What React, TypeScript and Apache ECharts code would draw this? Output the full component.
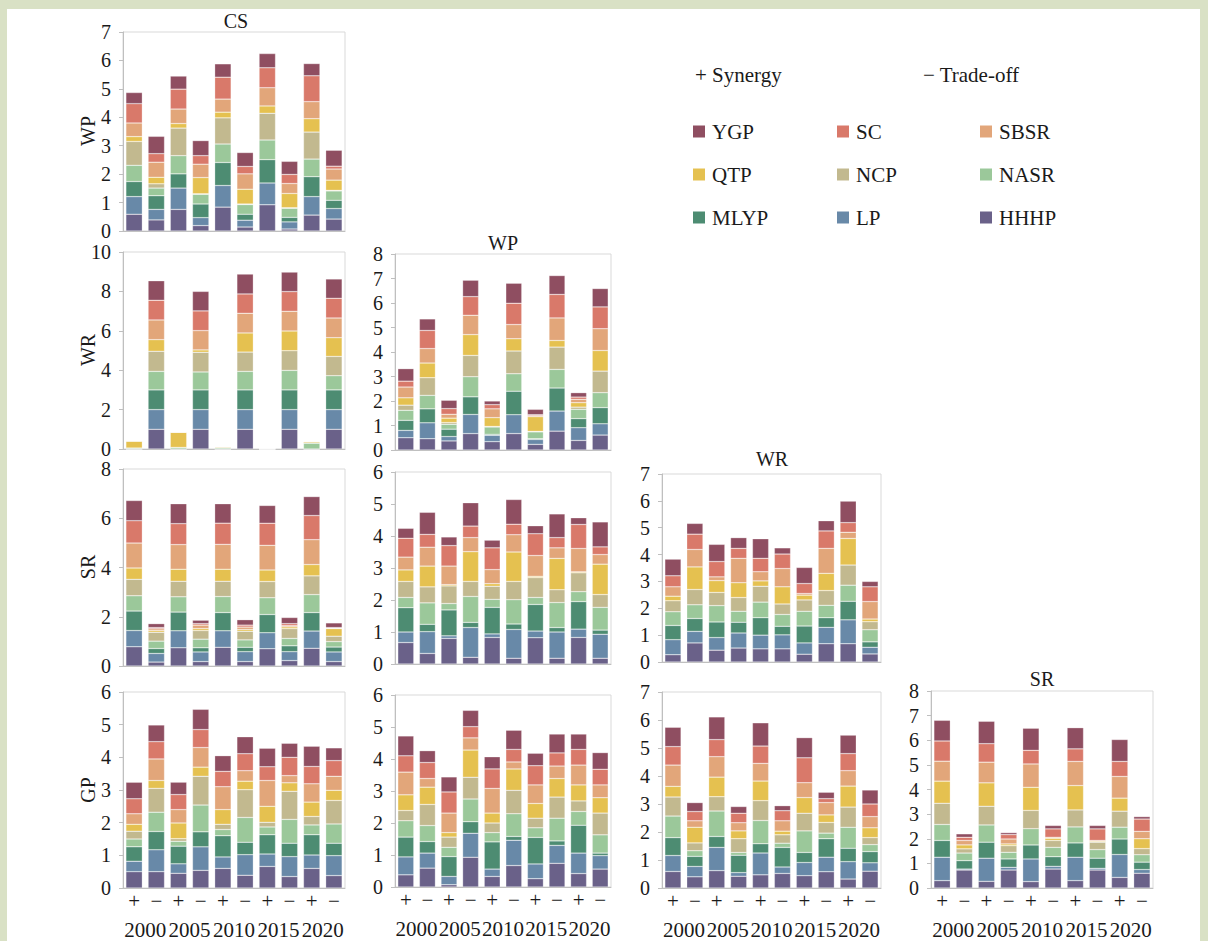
import React, { useEffect, useRef } from "react";
import * as echarts from "echarts";

const barLabels = ["+", "−", "+", "−", "+", "−", "+", "−", "+", "−"];
const years = ["2000", "2005", "2010", "2015", "2020"];
const components = ["HHHP", "LP", "MLYP", "NASR", "NCP", "QTP", "SBSR", "SC", "YGP"];
const compColors = ["#6a6189", "#6889a8", "#4d8c72", "#9bc89a", "#c2b98f", "#e5c150", "#e2a67a", "#d9796a", "#8f4e61"];
const columnTitles = ["CS", "WP", "WR", "SR"];
const rowTitles = ["WP", "WR", "SR", "GP"];
const legendColumns = [
  ["YGP", "QTP", "MLYP"],
  ["SC", "NCP", "LP"],
  ["SBSR", "NASR", "HHHP"],
];

// each panel: 9 rows (HHHP, LP, MLYP, NASR, NCP, QTP, SBSR, SC, YGP) x 10 bars
const wpCS = [
  [0.59, 0.39, 0.76, 0.19, 0.84, 0.14, 0.92, 0.07, 0.56, 0.42],
  [0.62, 0.37, 0.75, 0.28, 0.76, 0.24, 0.77, 0.25, 0.65, 0.37],
  [0.53, 0.48, 0.5, 0.48, 0.81, 0.21, 0.82, 0.16, 0.7, 0.29],
  [0.57, 0.27, 0.64, 0.34, 0.65, 0.34, 0.69, 0.32, 0.62, 0.33],
  [0.84, 0.15, 0.97, 0.02, 0.92, 0.02, 0.94, 0.02, 0.95, 0.02],
  [0.17, 0.23, 0.16, 0.57, 0.2, 0.52, 0.26, 0.5, 0.47, 0.36],
  [0.48, 0.53, 0.51, 0.47, 0.46, 0.54, 0.64, 0.35, 0.6, 0.39],
  [0.68, 0.3, 0.7, 0.3, 0.77, 0.26, 0.7, 0.32, 0.91, 0.1],
  [0.39, 0.61, 0.46, 0.53, 0.47, 0.49, 0.5, 0.46, 0.43, 0.56],
];
const wrCS = [
  [0, 1, 0, 1, 0, 1, 0, 1, 0, 1],
  [0, 1, 0, 1, 0, 1, 0, 1, 0, 1],
  [0, 1, 0, 1, 0, 1, 0, 1, 0, 1],
  [0.05, 0.94, 0.08, 0.91, 0.06, 0.94, 0, 0.99, 0.3, 0.72],
  [0, 1.02, 0, 1.0, 0, 0.98, 0, 1.0, 0, 0.98],
  [0.35, 0.59, 0.77, 0.12, 0.05, 0.97, 0.02, 1.0, 0.07, 0.95],
  [0, 1.0, 0, 0.98, 0, 1.0, 0, 1.0, 0, 1.0],
  [0, 1.0, 0, 1.0, 0, 0.98, 0, 1.0, 0, 1.0],
  [0, 0.99, 0, 0.99, 0, 1.01, 0, 0.99, 0, 0.98],
];
const wrWP = [
  [0.5, 0.46, 0.37, 0.67, 0.34, 0.67, 0.23, 0.77, 0.39, 0.61],
  [0.3, 0.65, 0.18, 0.78, 0.26, 0.77, 0.2, 0.82, 0.52, 0.46],
  [0.41, 0.57, 0.3, 0.72, 0.04, 0.96, 0.03, 0.94, 0.37, 0.66],
  [0.41, 0.55, 0.2, 0.82, 0.3, 0.71, 0.28, 0.76, 0.38, 0.61],
  [0.21, 0.72, 0.07, 0.87, 0.02, 0.93, 0.02, 0.91, 0.09, 0.88],
  [0.3, 0.6, 0.18, 0.85, 0.36, 0.5, 0.6, 0.27, 0.18, 0.84],
  [0.44, 0.59, 0.16, 0.79, 0.36, 0.58, 0.04, 0.92, 0.14, 0.89],
  [0.24, 0.74, 0.23, 0.76, 0.17, 0.87, 0.04, 0.96, 0.09, 0.89],
  [0.51, 0.47, 0.34, 0.67, 0.15, 0.82, 0.22, 0.77, 0.18, 0.75],
];
const srCS = [
  [0.78, 0.16, 0.74, 0.18, 0.76, 0.18, 0.7, 0.22, 0.72, 0.18],
  [0.66, 0.35, 0.69, 0.39, 0.67, 0.4, 0.65, 0.36, 0.7, 0.39],
  [0.79, 0.2, 0.76, 0.17, 0.74, 0.18, 0.74, 0.24, 0.75, 0.2],
  [0.62, 0.3, 0.62, 0.35, 0.65, 0.3, 0.68, 0.3, 0.73, 0.22],
  [0.67, 0.36, 0.63, 0.35, 0.62, 0.35, 0.66, 0.4, 0.76, 0.22],
  [0.46, 0.07, 0.49, 0.08, 0.49, 0.07, 0.47, 0.07, 0.46, 0.31],
  [1.01, 0.07, 1.0, 0.14, 1.01, 0.1, 1.0, 0.05, 1.01, 0.02],
  [0.91, 0.05, 0.85, 0.06, 0.86, 0.08, 0.9, 0.08, 0.98, 0.02],
  [0.82, 0.16, 0.81, 0.14, 0.79, 0.22, 0.72, 0.25, 0.77, 0.19],
];
const srWP = [
  [0.67, 0.33, 0.8, 0.21, 0.83, 0.18, 0.82, 0.18, 0.83, 0.18],
  [0.33, 0.68, 0.08, 0.93, 0.11, 0.9, 0.21, 0.82, 0.26, 0.75],
  [0.76, 0.23, 0.81, 0.16, 0.83, 0.17, 0.83, 0.14, 0.86, 0.13],
  [0.32, 0.67, 0.2, 0.81, 0.25, 0.76, 0.22, 0.78, 0.31, 0.71],
  [0.5, 0.5, 0.55, 0.47, 0.41, 0.57, 0.62, 0.4, 0.59, 0.4],
  [0.36, 0.65, 0.04, 0.93, 0.08, 0.92, 0.04, 0.98, 0.03, 0.95],
  [0.4, 0.59, 0.58, 0.44, 0.44, 0.54, 0.65, 0.33, 0.73, 0.3],
  [0.59, 0.4, 0.64, 0.36, 0.68, 0.33, 0.68, 0.32, 0.75, 0.24],
  [0.31, 0.69, 0.27, 0.73, 0.24, 0.77, 0.25, 0.74, 0.21, 0.78],
];
const srWR = [
  [0.27, 0.71, 0.44, 0.52, 0.49, 0.49, 0.29, 0.68, 0.68, 0.3],
  [0.56, 0.43, 0.47, 0.56, 0.51, 0.52, 0.42, 0.61, 0.89, 0.25],
  [0.53, 0.48, 0.58, 0.4, 0.65, 0.32, 0.63, 0.36, 0.69, 0.2],
  [0.51, 0.51, 0.61, 0.41, 0.58, 0.44, 0.55, 0.46, 0.6, 0.45],
  [0.41, 0.57, 0.49, 0.51, 0.59, 0.39, 0.42, 0.55, 0.75, 0.3],
  [0.17, 0.84, 0.44, 0.55, 0.2, 0.64, 0.18, 0.64, 0.99, 0.1],
  [0.35, 0.65, 0.14, 0.91, 0.34, 0.68, 0.06, 0.93, 0.23, 0.65],
  [0.41, 0.57, 0.57, 0.37, 0.5, 0.54, 0.37, 0.65, 0.36, 0.55],
  [0.62, 0.4, 0.64, 0.4, 0.73, 0.23, 0.6, 0.38, 0.8, 0.2],
];
const gpCS = [
  [0.5, 0.5, 0.45, 0.54, 0.6, 0.39, 0.66, 0.35, 0.6, 0.38],
  [0.32, 0.67, 0.29, 0.72, 0.35, 0.63, 0.38, 0.61, 0.41, 0.61],
  [0.44, 0.56, 0.54, 0.46, 0.65, 0.38, 0.59, 0.41, 0.62, 0.38],
  [0.24, 0.59, 0.15, 0.82, 0.19, 0.76, 0.24, 0.73, 0.3, 0.59],
  [0.24, 0.73, 0.08, 0.88, 0.16, 0.85, 0.14, 0.86, 0.26, 0.72],
  [0.21, 0.24, 0.48, 0.28, 0.45, 0.26, 0.49, 0.26, 0.44, 0.31],
  [0.32, 0.66, 0.41, 0.6, 0.7, 0.32, 0.79, 0.22, 0.56, 0.43],
  [0.46, 0.53, 0.46, 0.55, 0.47, 0.52, 0.42, 0.56, 0.53, 0.48],
  [0.51, 0.51, 0.38, 0.62, 0.48, 0.52, 0.57, 0.43, 0.62, 0.39],
];
const gpWP = [
  [0.38, 0.59, 0.07, 0.93, 0.33, 0.67, 0.26, 0.74, 0.42, 0.56],
  [0.56, 0.47, 0.26, 0.75, 0.23, 0.79, 0.46, 0.56, 0.64, 0.42],
  [0.62, 0.36, 0.62, 0.36, 0.85, 0.12, 0.83, 0.14, 0.87, 0.08],
  [0.51, 0.5, 0.29, 0.71, 0.29, 0.71, 0.3, 0.71, 0.43, 0.57],
  [0.32, 0.66, 0.32, 0.68, 0.3, 0.73, 0.3, 0.66, 0.33, 0.68],
  [0.49, 0.54, 0.14, 0.85, 0.31, 0.67, 0.46, 0.58, 0.5, 0.48],
  [0.71, 0.27, 0.61, 0.38, 0.77, 0.22, 0.58, 0.39, 0.62, 0.4],
  [0.51, 0.5, 0.66, 0.35, 0.61, 0.39, 0.6, 0.41, 0.49, 0.49],
  [0.62, 0.37, 0.47, 0.51, 0.38, 0.6, 0.39, 0.59, 0.48, 0.52],
];
const gpWR = [
  [0.59, 0.4, 0.62, 0.42, 0.47, 0.52, 0.44, 0.58, 0.32, 0.6],
  [0.57, 0.37, 0.83, 0.13, 0.78, 0.23, 0.47, 0.52, 0.62, 0.3],
  [0.64, 0.36, 0.39, 0.62, 0.33, 0.7, 0.36, 0.66, 0.48, 0.4],
  [0.77, 0.2, 0.91, 0.1, 0.83, 0.15, 0.77, 0.2, 0.75, 0.25],
  [0.68, 0.28, 0.51, 0.49, 0.71, 0.3, 0.63, 0.38, 0.72, 0.25],
  [0.38, 0.56, 0.7, 0.28, 0.7, 0.13, 0.56, 0.27, 0.75, 0.35],
  [0.76, 0.23, 0.73, 0.29, 0.63, 0.37, 0.53, 0.44, 0.55, 0.4],
  [0.66, 0.33, 0.61, 0.34, 0.62, 0.36, 0.89, 0.14, 0.61, 0.45],
  [0.69, 0.32, 0.81, 0.24, 0.83, 0.18, 0.72, 0.23, 0.66, 0.5],
];
const gpSR = [
  [0.3, 0.73, 0.27, 0.73, 0.26, 0.77, 0.3, 0.73, 0.43, 0.6],
  [0.95, 0.04, 0.94, 0.11, 0.92, 0.11, 0.95, 0.07, 0.93, 0.15],
  [0.68, 0.34, 0.65, 0.34, 0.57, 0.39, 0.58, 0.41, 0.63, 0.3],
  [0.65, 0.31, 0.7, 0.27, 0.66, 0.38, 0.65, 0.35, 0.48, 0.3],
  [0.86, 0.17, 0.76, 0.27, 0.74, 0.28, 0.69, 0.3, 0.65, 0.25],
  [0.9, 0.16, 0.95, 0.07, 0.94, 0.09, 0.99, 0.04, 0.53, 0.4],
  [0.81, 0.18, 0.84, 0.2, 0.95, 0.04, 0.98, 0.03, 0.88, 0.3],
  [0.82, 0.13, 0.75, 0.18, 0.55, 0.34, 0.51, 0.47, 0.61, 0.5],
  [0.84, 0.14, 0.91, 0.08, 0.9, 0.14, 0.86, 0.14, 0.89, 0.1],
];

const OX = 7;
const OY = 9;
const FONT = '"Liberation Serif", "Times New Roman", serif';
const TXT = "#1a1a1a";

const colLeft = [123, 395, 662, 931];
const colWidth = [222, 216, 219, 222];

const panels = [
  { data: wpCS, row: 0, col: 0, top: 32, bottom: 231, max: 7, interval: 1 },
  { data: wrCS, row: 1, col: 0, top: 252, bottom: 449, max: 10, interval: 2 },
  { data: wrWP, row: 1, col: 1, top: 254, bottom: 450, max: 8, interval: 1 },
  { data: srCS, row: 2, col: 0, top: 469, bottom: 666, max: 8, interval: 2 },
  { data: srWP, row: 2, col: 1, top: 472, bottom: 664, max: 6, interval: 1 },
  { data: srWR, row: 2, col: 2, top: 474, bottom: 662, max: 7, interval: 1 },
  { data: gpCS, row: 3, col: 0, top: 692, bottom: 888, max: 6, interval: 1 },
  { data: gpWP, row: 3, col: 1, top: 695, bottom: 887, max: 6, interval: 1 },
  { data: gpWR, row: 3, col: 2, top: 692, bottom: 888, max: 7, interval: 1 },
  { data: gpSR, row: 3, col: 3, top: 691, bottom: 888, max: 8, interval: 1 },
];

const titlePos = [
  { x: 236, y: 21 },
  { x: 503, y: 243 },
  { x: 772, y: 459 },
  { x: 1042, y: 679 },
];
const rowLabelY = [131, 350, 567, 790];

function buildOption() {
  const grid: any[] = [];
  const xAxis: any[] = [];
  const yAxis: any[] = [];
  const series: any[] = [];
  const labelStyle = { fontFamily: FONT, fontSize: 20, color: TXT };
  const xLabelStyle = { fontFamily: FONT, fontSize: 21, color: TXT };

  panels.forEach((p, i) => {
    grid.push({
      left: colLeft[p.col] - OX,
      top: p.top - OY,
      width: colWidth[p.col],
      height: p.bottom - p.top,
      show: true,
      borderColor: "#d9d9d9",
      borderWidth: 1,
      backgroundColor: "transparent",
    });
    const xi = xAxis.length;
    xAxis.push({
      type: "category",
      gridIndex: i,
      data: barLabels,
      axisLine: { lineStyle: { color: "#bfbfbf", width: 1 } },
      axisTick: { show: false },
      axisLabel: { show: p.row === 3, interval: 0, margin: 2, ...xLabelStyle },
    });
    if (p.row === 3) {
      xAxis.push({
        type: "category",
        gridIndex: i,
        data: years,
        position: "bottom",
        offset: 29,
        axisLine: { show: false },
        axisTick: { show: false },
        axisLabel: { interval: 0, margin: 2, ...xLabelStyle },
      });
    }
    yAxis.push({
      type: "value",
      gridIndex: i,
      min: 0,
      max: p.max,
      interval: p.interval,
      axisLine: { show: true, lineStyle: { color: "#bfbfbf", width: 1 } },
      axisTick: { show: true, length: 4, lineStyle: { color: "#bfbfbf" } },
      splitLine: { show: false },
      axisLabel: { margin: 12, ...labelStyle },
    });
    components.forEach((c, k) => {
      series.push({
        type: "bar",
        name: c,
        xAxisIndex: xi,
        yAxisIndex: i,
        stack: "p" + i,
        data: p.data[k],
        barCategoryGap: "26%",
        silent: true,
        itemStyle: { color: compColors[k], borderColor: "rgba(255,255,255,0.55)", borderWidth: 0.5 },
      });
    });
  });

  const legendX = [693, 837, 980];
  const legend = legendColumns.map((names, c) => ({
    orient: "vertical",
    left: legendX[c] - OX,
    top: 121 - OY,
    itemWidth: 12,
    itemHeight: 12,
    itemGap: 22,
    padding: 0,
    icon: "rect",
    selectedMode: false,
    data: names,
    itemStyle: { borderWidth: 0 },
    textStyle: { fontFamily: FONT, fontSize: 21, color: TXT, lineHeight: 21, padding: [0, 0, 0, 2] },
  }));

  const textEl = (text: string, x: number, y: number, align: string, size = 20, rotation = 0) => ({
    type: "text",
    x: x - OX,
    y: y - OY,
    rotation,
    silent: true,
    style: {
      text,
      fill: TXT,
      font: `${size}px ${FONT}`,
      align,
      verticalAlign: "middle",
      textAlign: align,
      textVerticalAlign: "middle",
    },
  });

  const graphic: any[] = [];
  columnTitles.forEach((t, i) => graphic.push(textEl(t, titlePos[i].x, titlePos[i].y, "center")));
  rowTitles.forEach((t, i) => graphic.push(textEl(t, 88, rowLabelY[i], "center", 20, Math.PI / 2)));
  graphic.push(textEl("+ Synergy", 695, 75, "left", 21));
  graphic.push(textEl("− Trade-off", 923, 75, "left", 21));

  return {
    animation: false,
    backgroundColor: "#ffffff",
    textStyle: { fontFamily: FONT },
    grid,
    xAxis,
    yAxis,
    series,
    legend,
    graphic,
  };
}

export default function App() {
  const ref = useRef<HTMLDivElement>(null);
  useEffect(() => {
    if (!ref.current) return;
    const chart = echarts.init(ref.current, undefined, { renderer: "svg" });
    chart.setOption(buildOption() as any);
    return () => chart.dispose();
  }, []);
  return (
    <div style={{ position: "fixed", left: 0, top: 0, width: 1208, height: 941, background: "#d9e1c5", overflow: "hidden" }}>
      <div ref={ref} style={{ position: "absolute", left: OX, top: OY, width: 1193, height: 941 - OY, background: "#fff" }} />
    </div>
  );
}
